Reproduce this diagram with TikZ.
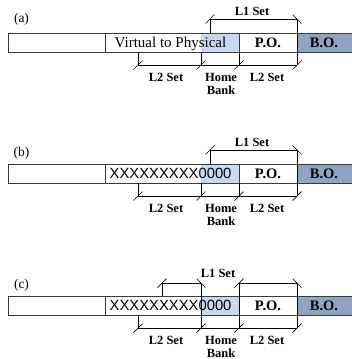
\documentclass[tikz,border=0pt]{standalone}
\usepackage{fontspec}
\setmainfont{Liberation Serif}
\newfontfamily\arialf{Liberation Sans}
\definecolor{hb}{HTML}{C6D9F1}
\definecolor{bo}{HTML}{8FA3C2}
\definecolor{barline}{HTML}{3A3A3A}
\tikzset{
  cell/.style={draw=barline, line width=0.9pt},
  dim/.style={draw=black, line width=0.7pt},
  lbl/.style={font=\fontsize{12.5}{13}\selectfont\bfseries, inner sep=0pt, align=center},
  cellt/.style={font=\fontsize{15}{16}\selectfont, inner sep=0pt, anchor=base},
  cellb/.style={font=\fontsize{14.5}{16}\selectfont\bfseries, inner sep=0pt, anchor=base},
  xtext/.style={font=\fontsize{14.8}{16}\selectfont\arialf, inner sep=0pt, anchor=base west},
  panel/.style={font=\fontsize{13.5}{15}\selectfont, inner sep=0pt},
}
\newcommand\tkf[2]{\draw[dim] (#1-4.5,#2+4.5) -- (#1+4.5,#2-4.5);}
\newcommand\tkb[2]{\draw[dim] (#1-4.5,#2-4.5) -- (#1+4.5,#2+4.5);}
\newcommand\barcells{%
  \fill[hb] (201,33) rectangle (239,52);
  \fill[bo] (297,33) rectangle (353,52);
  \draw[cell] (8,33) rectangle (353,52);
  \draw[cell] (105,33) -- (105,52);
  \draw[cell] (239,33) -- (239,52);
  \draw[cell] (297,33) -- (297,52);
  \node[cellb] (po) at (268,47) {P.O.};
  \node[cellb] (bo) at (324,47) {B.O.};
  \node[lbl, anchor=north] (l2a) at (166,73) {L2 Set};
  \node[lbl, anchor=north] (hbk) at (221,73) {Home\\Bank};
  \node[lbl, anchor=north] (l2b) at (267,73) {L2 Set};
}
\newcommand\lowerbracket{%
  \draw[dim] (138,52) -- (138,65) -- (297,65);
  \draw[dim] (201,52) -- (201,65);
  \draw[dim] (239,52) -- (239,65);
  \tkf{138}{65}\tkf{201}{65}\tkf{239}{65}\tkf{297}{65}
}
\begin{document}
\begin{tikzpicture}[x=1pt,y=-1pt]
\useasboundingbox (0,0) rectangle (351,359);
% ---------- (a)
\begin{scope}
  \barcells
  \node[cellt] (v2p) at (170.5,47) {Virtual to Physical};
  \node[panel] (pa) at (21.5,19) {(a)};
  \lowerbracket
  \draw[dim] (210,33) -- (210,19) -- (297,19) -- (297,65);
  \tkf{210}{19}\tkb{297}{19}
  \node[lbl, anchor=base] (l1a) at (252,15) {L1 Set};
\end{scope}
% ---------- (b)
\begin{scope}[shift={(0,131)}]
  \barcells
  \node[xtext] (xb) at (109.5,47) {XXXXXXXXX0000};
  \node[panel] (pb) at (21.5,22) {(b)};
  \lowerbracket
  \draw[dim] (210,33) -- (210,19) -- (297,19) -- (297,65);
  \tkf{210}{19}\tkb{297}{19}
  \node[lbl, anchor=base] (l1b) at (252,15) {L1 Set};
\end{scope}
% ---------- (c)
\begin{scope}[shift={(0,263)}]
  \barcells
  \node[xtext] (xc) at (109.5,47) {XXXXXXXXX0000};
  \node[panel] (pc) at (21.5,22) {(c)};
  \lowerbracket
  \draw[dim] (162,33) -- (162,20) -- (201,20) -- (201,65);
  \draw[dim] (239,65) -- (239,20) -- (297,20) -- (297,65);
  \tkf{162}{20}\tkb{201}{20}\tkf{239}{20}\tkb{297}{20}
  \node[lbl, anchor=base] (l1c) at (218,14.5) {L1 Set};
\end{scope}
\end{tikzpicture}
\end{document}
